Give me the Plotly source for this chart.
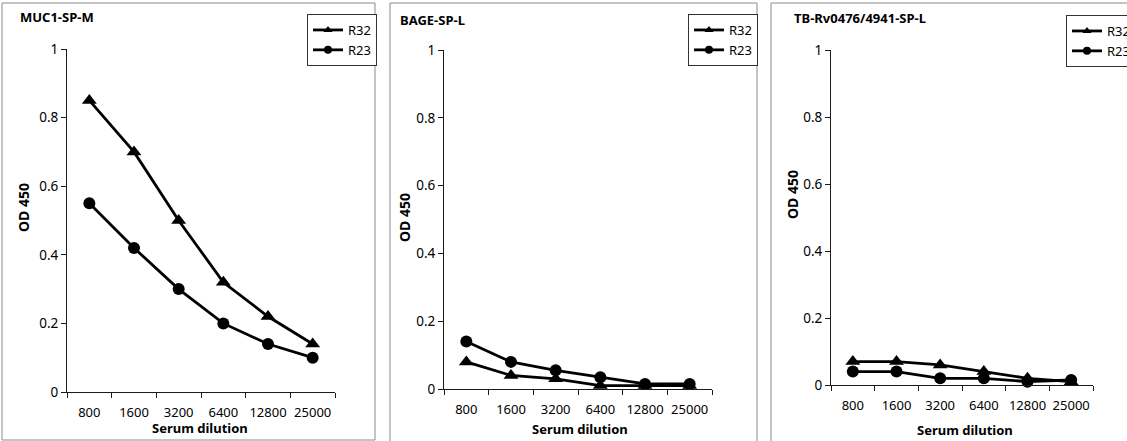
import plotly.graph_objects as go

W, H = 1127, 441

dilutions = ["800", "1600", "3200", "6400", "12800", "25000"]
series_names = ["R32", "R23"]
panel_titles = ["MUC1-SP-M", "BAGE-SP-L", "TB-Rv0476/4941-SP-L"]

muc1_r32 = [0.85, 0.70, 0.50, 0.32, 0.22, 0.14]
muc1_r23 = [0.55, 0.42, 0.30, 0.20, 0.14, 0.10]
bage_r32 = [0.08, 0.04, 0.03, 0.01, 0.01, 0.01]
bage_r23 = [0.14, 0.08, 0.055, 0.035, 0.015, 0.015]
tb_r32 = [0.07, 0.07, 0.06, 0.04, 0.02, 0.01]
tb_r23 = [0.04, 0.04, 0.02, 0.02, 0.01, 0.015]

y_tick_vals = [0, 0.2, 0.4, 0.6, 0.8, 1]
y_tick_text = ["0", "0.2", "0.4", "0.6", "0.8", "1"]

panel_data = [(muc1_r32, muc1_r23), (bage_r32, bage_r23), (tb_r32, tb_r23)]

# layout geometry in pixels
panels = [
    dict(ax=(67, 335), ay=(392, 49), border=(2, 3, 375, 440), title=(18, 17),
         legend=(307, 14), ytitle=(23, 207), xtitle=(200, 428)),
    dict(ax=(444, 712), ay=(389, 50), border=(390, 3, 757, 450), title=(398, 20),
         legend=(688, 14), ytitle=(405, 218), xtitle=(580, 429)),
    dict(ax=(831, 1093), ay=(385, 50), border=(771, 3, 1140, 450), title=(792, 18),
         legend=(1066, 15), ytitle=(792, 195), xtitle=(965, 430)),
]

FONT = "Noto Sans, DejaVu Sans, sans-serif"
AXC = "#1a1a1a"

def fx(p):
    return p / W

def fy(p):
    return 1 - p / H

fig = go.Figure()
symbols = ["triangle-up", "circle"]
msizes = [13, 12]
lsizes = [8, 8]

annotations = []
shapes = []
layout = {}
for i, (pan, vals) in enumerate(zip(panels, panel_data)):
    n = "" if i == 0 else str(i + 1)
    lg = "legend" if i == 0 else f"legend{i+1}"
    for s, name in enumerate(series_names):
        fig.add_trace(go.Scatter(
            x=dilutions, y=vals[s], mode="lines+markers", name=name,
            xaxis="x" + n, yaxis="y" + n, showlegend=False, cliponaxis=False,
            line=dict(color="black", width=2.8),
            marker=dict(symbol=symbols[s], size=msizes[s], color="black"),
        ))
    for s, name in enumerate(series_names):
        fig.add_trace(go.Scatter(
            x=[None], y=[None], mode="lines+markers", name=name,
            xaxis="x" + n, yaxis="y" + n, showlegend=True, legend=lg,
            line=dict(color="black", width=2.8),
            marker=dict(symbol=symbols[s], size=lsizes[s], color="black"),
        ))
    layout["xaxis" + n] = dict(
        domain=[fx(pan["ax"][0]), fx(pan["ax"][1])], anchor="y" + n,
        type="category", range=[-0.5, 5.5], tickson="boundaries", tickangle=0,
        ticks="outside", ticklen=5, tickcolor=AXC, showline=True, linecolor=AXC,
        linewidth=1, showgrid=False, zeroline=False, fixedrange=True,
        ticklabelstandoff=8,
        tickfont=dict(family=FONT, size=13, color="black"),
    )
    layout["yaxis" + n] = dict(
        domain=[fy(pan["ay"][0]), fy(pan["ay"][1])], anchor="x" + n,
        range=[0, 1], tickvals=y_tick_vals, ticktext=y_tick_text,
        ticks="outside", ticklen=5, tickcolor=AXC, showline=True, linecolor=AXC,
        linewidth=1, showgrid=False, zeroline=False, fixedrange=True,
        tickfont=dict(family=FONT, size=13.5, color="black"),
    )
    layout[lg] = dict(
        x=fx(pan["legend"][0]), y=fy(pan["legend"][1]), xanchor="left", yanchor="top",
        bordercolor="#333", borderwidth=1, bgcolor="white",
        font=dict(family=FONT, size=13, color="black"),
        itemwidth=30, tracegroupgap=0,
    )
    b = pan["border"]
    shapes.append(dict(type="rect", xref="paper", yref="paper",
                       x0=fx(b[0]), x1=fx(b[2]), y0=fy(b[3]), y1=fy(b[1]),
                       line=dict(color="#8a8a8a", width=1), layer="below"))
    annotations.append(dict(text="<b>" + panel_titles[i] + "</b>", xref="paper", yref="paper",
                            x=fx(pan["title"][0]), y=fy(pan["title"][1]),
                            xanchor="left", yanchor="middle", showarrow=False,
                            font=dict(family=FONT, size=13, color="black")))
    annotations.append(dict(text="<b>OD 450</b>", xref="paper", yref="paper",
                            x=fx(pan["ytitle"][0]), y=fy(pan["ytitle"][1]),
                            xanchor="center", yanchor="middle", textangle=-90, showarrow=False,
                            font=dict(family=FONT, size=14, color="black")))
    annotations.append(dict(text="<b>Serum dilution</b>", xref="paper", yref="paper",
                            x=fx(pan["xtitle"][0]), y=fy(pan["xtitle"][1]),
                            xanchor="center", yanchor="middle", showarrow=False,
                            font=dict(family=FONT, size=13, color="black")))

fig.update_layout(
    width=W, height=H,
    margin=dict(l=0, r=0, t=0, b=0, pad=0, autoexpand=False),
    paper_bgcolor="white", plot_bgcolor="white",
    shapes=shapes, annotations=annotations,
    **layout,
)

fig.write_html("out.html", config={"displayModeBar": False},
               post_script="document.body.style.margin='0';document.body.style.overflow='hidden';")
